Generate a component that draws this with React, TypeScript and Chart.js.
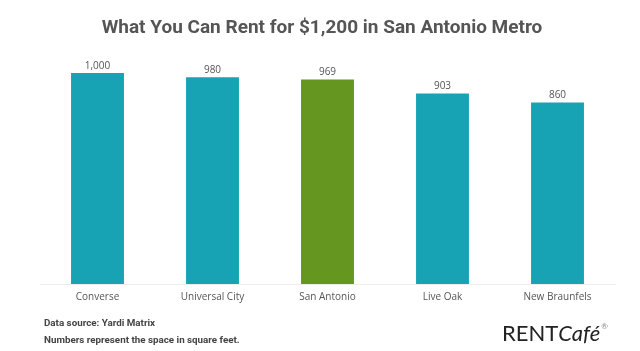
import React, { useEffect, useRef } from "react";
import { Chart, registerables } from "chart.js";

Chart.register(...registerables);

const categories = ["Converse", "Universal City", "San Antonio", "Live Oak", "New Braunfels"];
const sqft = [1000, 980, 969, 903, 860];
const barColors = ["#17a3b4", "#17a3b4", "#65961f", "#17a3b4", "#17a3b4"];
const titleText = "What You Can Rent for $1,200 in San Antonio Metro";
const footerLines = ["Data source: Yardi Matrix", "Numbers represent the space in square feet."];

const decorPlugin = {
  id: "decor",
  afterDatasetsDraw(chart: any) {
    const ctx = chart.ctx;
    const meta = chart.getDatasetMeta(0);
    ctx.save();
    ctx.font = "10px 'Open Sans', sans-serif";
    ctx.fillStyle = "#555";
    ctx.textAlign = "center";
    ctx.textBaseline = "bottom";
    meta.data.forEach((bar: any, i: number) => {
      ctx.fillText(sqft[i].toLocaleString("en-US"), bar.x, bar.y - 2);
    });
    ctx.restore();
  },
  afterDraw(chart: any) {
    const ctx = chart.ctx;
    ctx.save();
    ctx.fillStyle = "#555";
    ctx.textAlign = "center";
    ctx.textBaseline = "middle";
    ctx.font = "bold 19px Roboto, sans-serif";
    ctx.fillText(titleText, 322, 28);
    ctx.textAlign = "left";
    ctx.font = "bold 9.8px Roboto, sans-serif";
    ctx.fillStyle = "#444";
    ctx.fillText(footerLines[0], 44, 324);
    ctx.fillText(footerLines[1], 44, 341);
    ctx.font = "22px Lato, sans-serif";
    ctx.fillStyle = "#222";
    ctx.fillText("RENT", 502, 334);
    const w = ctx.measureText("RENT").width;
    ctx.font = "italic 22px Lato, sans-serif";
    ctx.fillText("Café", 502 + w, 334);
    const w2 = ctx.measureText("Café").width;
    ctx.font = "8px Lato, sans-serif";
    ctx.fillStyle = "#888";
    ctx.fillText("®", 502 + w + w2 + 1, 326);
    ctx.restore();
  },
};

export default function App() {
  const ref = useRef<HTMLCanvasElement>(null);
  useEffect(() => {
    document.body.style.margin = "0";
    const chart = new Chart(ref.current!, {
      type: "bar",
      data: {
        labels: categories,
        datasets: [
          {
            data: sqft,
            backgroundColor: barColors,
            categoryPercentage: 1,
            barPercentage: 0.46,
          },
        ],
      },
      options: {
        animation: false,
        responsive: false,
        layout: { padding: { top: 73, left: 40, right: 25, bottom: 41 } },
        plugins: { legend: { display: false }, tooltip: { enabled: false }, title: { display: false } },
        scales: {
          x: {
            grid: { display: false, drawTicks: false, tickLength: 0 },
            border: { color: "#eeeeee" },
            ticks: { color: "#555", font: { family: "'Open Sans', sans-serif", size: 10 }, padding: 7 },
          },
          y: { display: false, min: 0, max: 1000 },
        },
      },
      plugins: [decorPlugin],
    });
    return () => chart.destroy();
  }, []);
  return (
    <div style={{ width: 640, height: 351, background: "#fff" }}>
      <canvas ref={ref} width={640} height={351} />
    </div>
  );
}
